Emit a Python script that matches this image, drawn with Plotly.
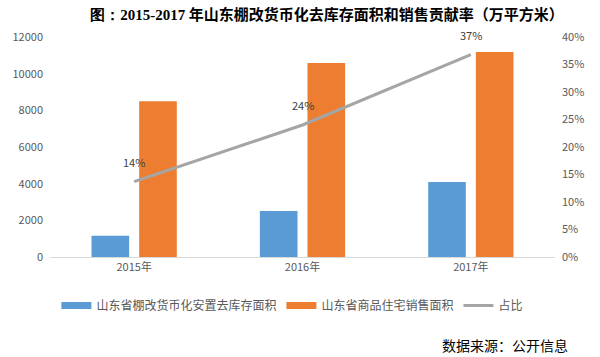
import plotly.graph_objects as go

years = ["2015年", "2016年", "2017年"]
destock = [1160, 2510, 4090]
sales = [8490, 10580, 11180]
ratio = [0.137, 0.24, 0.368]
ratio_labels = ["14%", "24%", "37%"]

name_destock = "山东省棚改货币化安置去库存面积"
name_sales = "山东省商品住宅销售面积"
name_ratio = "占比"

blue = "#5B9BD5"
orange = "#ED7D31"
gray = "#A5A5A5"

tick_font = dict(family="Noto Sans CJK SC, DejaVu Sans", size=11, color="#595959")

fig = go.Figure()
fig.add_trace(go.Bar(x=years, y=destock, name=name_destock, showlegend=False,
                     marker=dict(color=blue, line=dict(width=0))))
fig.add_trace(go.Bar(x=years, y=sales, name=name_sales, showlegend=False,
                     marker=dict(color=orange, line=dict(width=0))))
fig.add_trace(go.Scatter(x=years, y=ratio, name=name_ratio, yaxis="y2",
                         mode="lines", showlegend=False,
                         line=dict(color=gray, width=3)))
# legend entries with wide rectangular swatches
fig.add_trace(go.Scatter(x=[None], y=[None], name=name_destock, mode="lines",
                         line=dict(color=blue, width=7)))
fig.add_trace(go.Scatter(x=[None], y=[None], name=name_sales, mode="lines",
                         line=dict(color=orange, width=7)))
fig.add_trace(go.Scatter(x=[None], y=[None], name=name_ratio, mode="lines",
                         line=dict(color=gray, width=3)))

for yr, r, lab in zip(years, ratio, ratio_labels):
    fig.add_annotation(x=yr, y=r, yref="y2", text=lab, showarrow=False,
                       yshift=20, font=dict(family="Noto Sans CJK SC, DejaVu Sans",
                                            size=11, color="#404040"))

fig.update_layout(
    width=600, height=357,
    margin=dict(l=50, r=45, t=37, b=100),
    paper_bgcolor="white", plot_bgcolor="white",
    barmode="group", bargap=0.434, bargroupgap=0.21,
    title=dict(
        text="<b><span style=\"font-family:'Liberation Serif'\">图：2015-2017</span> 年山东棚改货币化去库存面积和销售贡献率（万平方米）</b>",
        x=0.545, xanchor="center", y=0.96, yanchor="middle",
        font=dict(family="Noto Sans CJK SC", size=15, color="#000000")),
    xaxis=dict(showgrid=False, showline=True, linecolor="#D9D9D9", linewidth=1,
               ticks="", tickfont=tick_font),
    yaxis=dict(range=[0, 12000], dtick=2000, showgrid=False, zeroline=False,
               showline=False, ticks="", tickfont=tick_font, tickformat="d",
               ticklabelstandoff=6),
    yaxis2=dict(range=[0, 0.4], dtick=0.05, tickformat=".0%", overlaying="y",
                side="right", showgrid=False, zeroline=False, showline=False,
                ticks="", tickfont=tick_font, ticklabelstandoff=6),
    legend=dict(orientation="h", x=0.48, xanchor="center", y=-0.22, yanchor="middle",
                font=dict(family="Noto Sans CJK SC", size=12, color="#595959"),
                itemwidth=30, tracegroupgap=0),
    showlegend=True,
)

fig.add_annotation(text="数据来源：公开信息", xref="paper", yref="paper",
                   x=1.03, xanchor="right", y=-0.4, yanchor="middle",
                   showarrow=False,
                   font=dict(family="Noto Sans CJK SC", size=14, color="#000000"))

fig.write_html("out.html", config={"displayModeBar": False},
               post_script="document.body.style.margin='0';document.body.style.padding='0';")
